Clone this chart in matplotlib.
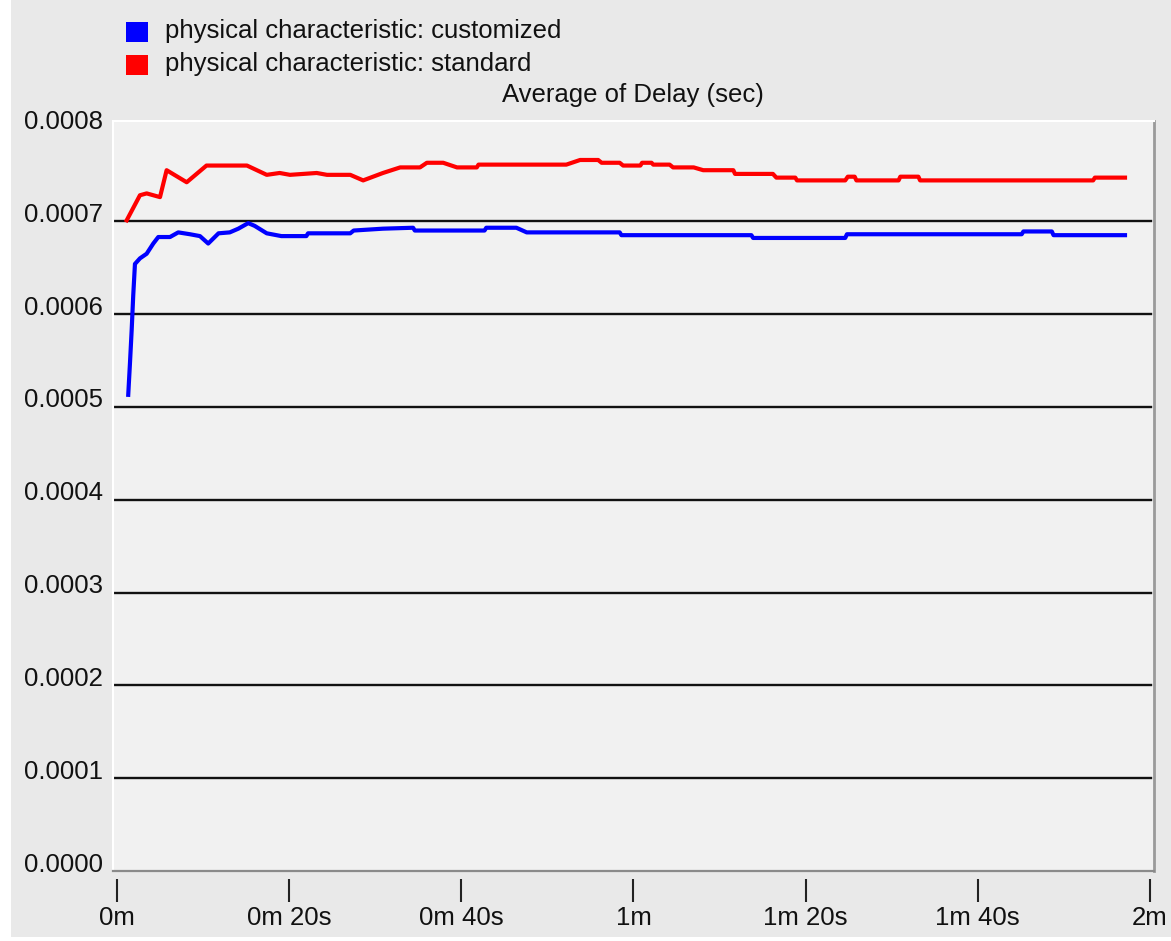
import matplotlib
matplotlib.use("Agg")
import matplotlib.pyplot as plt
from matplotlib.patches import Rectangle
from matplotlib.transforms import ScaledTranslation
from matplotlib.lines import Line2D

# ---------------- data ----------------
series_names = ["physical characteristic: customized", "physical characteristic: standard"]
series_colors = ["#0000ff", "#ff0000"]

# time in seconds, delay in seconds
std_t = [1.13, 2.67, 3.45, 5.0, 5.77, 8.1, 10.4, 15.1, 17.4, 18.9, 20.1, 23.2, 24.4, 27.1,
         28.6, 30.9, 32.9, 35.2, 36.0, 37.9, 39.5, 41.8, 42.0, 52.2, 53.8, 55.9, 56.3, 58.4,
         58.8, 60.8, 61.0, 62.1, 62.3, 64.2, 64.6, 67.0, 68.1, 71.6, 71.8, 76.2, 76.6, 78.8,
         79.0, 84.6, 84.9, 85.7, 85.9, 90.8, 91.0, 93.1, 93.3, 113.4, 113.6, 117.1]
std_v = [0.000701, 0.000728, 0.000730, 0.000726, 0.000755, 0.000742, 0.000760, 0.000760,
         0.000750, 0.000752, 0.000750, 0.000752, 0.000750, 0.000750, 0.000744, 0.000752,
         0.000758, 0.000758, 0.000763, 0.000763, 0.000758, 0.000758, 0.000761, 0.000761,
         0.000766, 0.000766, 0.000763, 0.000763, 0.000760, 0.000760, 0.000763, 0.000763,
         0.000761, 0.000761, 0.000758, 0.000758, 0.000755, 0.000755, 0.000751, 0.000751,
         0.000747, 0.000747, 0.000744, 0.000744, 0.000748, 0.000748, 0.000744, 0.000744,
         0.000748, 0.000748, 0.000744, 0.000744, 0.000747, 0.000747]

cus_t = [1.31, 1.51, 1.71, 1.89, 2.09, 2.67, 3.45, 4.22, 4.8, 6.16, 7.12, 8.48, 9.64, 10.6,
         11.8, 13.1, 14.1, 15.25, 16.0, 17.4, 19.1, 22.0, 22.2, 27.1, 27.5, 30.9, 34.4, 34.6,
         42.7, 42.9, 46.4, 47.6, 58.4, 58.6, 73.7, 73.9, 84.6, 84.8, 105.1, 105.3, 108.6,
         108.8, 117.1]
cus_v = [0.000513, 0.000547, 0.000583, 0.000620, 0.000654, 0.000660, 0.000665, 0.000676,
         0.000683, 0.000683, 0.000688, 0.000686, 0.000684, 0.000676, 0.000687, 0.000688,
         0.000692, 0.000698, 0.000695, 0.000687, 0.000684, 0.000684, 0.000687, 0.000687,
         0.000690, 0.000692, 0.000693, 0.000690, 0.000690, 0.000693, 0.000693, 0.000688,
         0.000688, 0.000685, 0.000685, 0.000682, 0.000682, 0.000686, 0.000686, 0.000689,
         0.000689, 0.000685, 0.000685]

title = "Average of Delay (sec)"
y_ticks = [0.0000, 0.0001, 0.0002, 0.0003, 0.0004, 0.0005, 0.0006, 0.0007, 0.0008]
y_tick_labels = ["0.0000", "0.0001", "0.0002", "0.0003", "0.0004", "0.0005", "0.0006", "0.0007", "0.0008"]
x_ticks = [0, 20, 40, 60, 80, 100, 120]
x_tick_labels = ["0m", "0m 20s", "0m 40s", "1m", "1m 20s", "1m 40s", "2m"]
grid_values = [0.0001, 0.0002, 0.0003, 0.0004, 0.0005, 0.0006, 0.0007]

# ---------------- figure ----------------
W, H = 1171, 941
DPI = 100
plt.rcParams['font.family'] = ['Liberation Sans', 'DejaVu Sans']
FS = 18.5

fig = plt.figure(figsize=(W / DPI, H / DPI), dpi=DPI, facecolor="white")

def fx(px):
    return px / W

def fy(py):
    return 1 - py / H

# gray panel background (white strip at left/bottom)
fig.patches.append(Rectangle((fx(11), fy(937)), fx(W) - fx(11), fy(0) - fy(937),
                             transform=fig.transFigure, facecolor="#e9e9e9",
                             edgecolor="none", zorder=-10))

L, R, T, B = 113, 1154, 121, 871
ax = fig.add_axes([fx(L), fy(B), fx(R) - fx(L), fy(T) - fy(B)])
ax.set_facecolor("#f1f1f1")
ax.set_xlim(-0.46, 120.47)
ax.set_ylim(0, 0.000808)

for g in grid_values:
    ax.axhline(g, xmin=0, xmax=0.997, color="#111111", lw=1.7, zorder=1)

ax.plot(cus_t, cus_v, color=series_colors[0], lw=3.0, zorder=3)
ax.plot(std_t, std_v, color=series_colors[1], lw=3.0, zorder=3)

# spines
ax.spines['left'].set_color("#ffffff")
ax.spines['left'].set_linewidth(1.5)
ax.spines['top'].set_color("#ffffff")
ax.spines['top'].set_linewidth(1.5)
ax.spines['right'].set_color("#9a9a9a")
ax.spines['right'].set_linewidth(2.0)
ax.spines['bottom'].set_position(('outward', 6))
ax.spines['bottom'].set_visible(False)
ax.add_line(Line2D([0, 1], [0, 0], transform=ax.transAxes, color="#8a8a8a", lw=1.6,
                   clip_on=False, zorder=4))

ax.set_yticks(y_ticks)
ax.set_yticklabels(y_tick_labels, fontsize=FS, color="#111111")
ax.tick_params(axis='y', length=0, pad=7)
off = ScaledTranslation(0, 9 / DPI, fig.dpi_scale_trans)
for lab in ax.get_yticklabels():
    lab.set_transform(lab.get_transform() + off)

ax.set_xticks(x_ticks)
ax.set_xticklabels(x_tick_labels, fontsize=FS, color="#111111")
ax.tick_params(axis='x', direction='out', length=16.5, width=1.5, color="#222222", pad=3)

# title
fig.text(fx(633), fy(102), title, ha='center', va='baseline', fontsize=FS, color="#111111")

# legend
for i, (name, col) in enumerate(zip(series_names, series_colors)):
    top = 22 + i * 33
    fig.patches.append(Rectangle((fx(126), fy(top + 20)), fx(22), 20 / H,
                                 transform=fig.transFigure, facecolor=col, edgecolor="none"))
    fig.text(fx(165), fy(38 + i * 33), name, ha='left', va='baseline', fontsize=FS,
             color="#111111")

fig.savefig("out.png", dpi=DPI, facecolor=fig.get_facecolor())
